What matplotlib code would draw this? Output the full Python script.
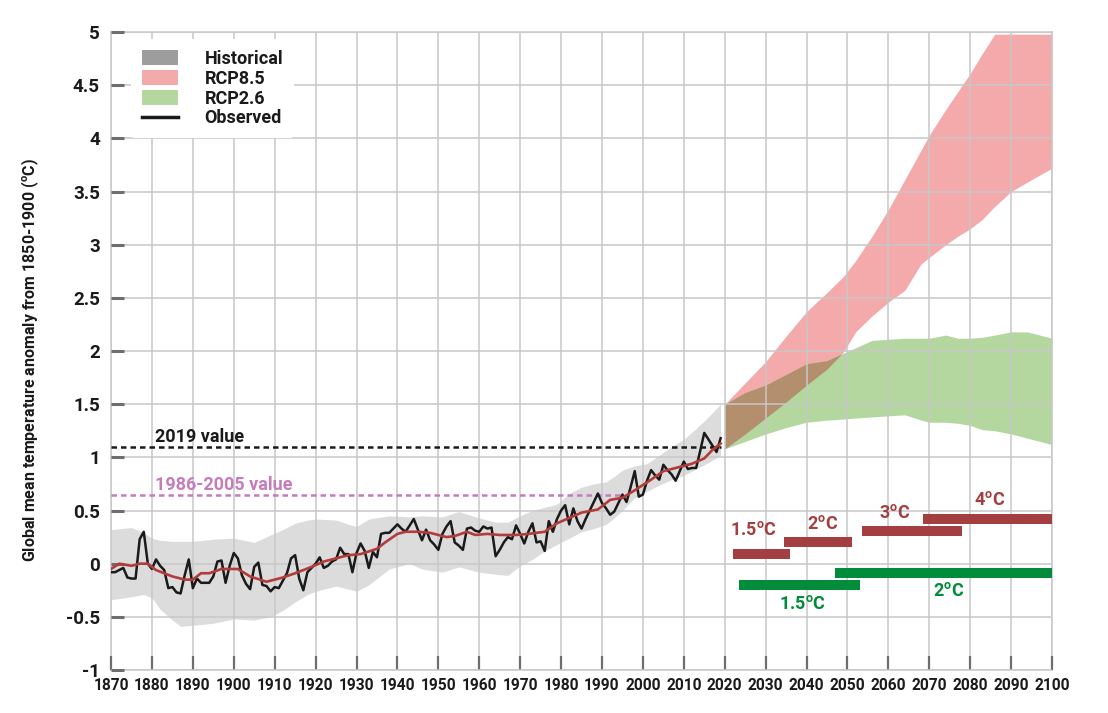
import matplotlib
matplotlib.use("Agg")
import matplotlib.pyplot as plt
import numpy as np
from matplotlib.patches import Patch
from matplotlib.lines import Line2D

plt.rcParams['font.family'] = ['Roboto', 'DejaVu Sans']
plt.rcParams['font.weight'] = 'bold'
plt.rcParams['axes.unicode_minus'] = False
plt.rcParams['mathtext.fontset'] = 'custom'
plt.rcParams['mathtext.rm'] = 'Roboto:bold'
plt.rcParams['mathtext.bf'] = 'Roboto:bold'

# --- observed annual anomalies 1870-2019 ---
obs_years = np.arange(1870, 2020)
obs_values = [
    -0.08, -0.08, -0.06, -0.04, -0.13, -0.14, -0.14, 0.23, 0.30, 0.00,
    -0.05, 0.04, -0.02, -0.06, -0.23, -0.22, -0.27, -0.28, -0.11, 0.04,
    -0.23, -0.14, -0.18, -0.18, -0.18, -0.12, 0.02, 0.03, -0.18, -0.02,
    0.10, 0.05, -0.11, -0.19, -0.24, -0.03, 0.01, -0.20, -0.21, -0.26,
    -0.22, -0.23, -0.16, -0.09, 0.05, 0.08, -0.14, -0.25, -0.08, -0.04,
    0.00, 0.06, -0.04, -0.02, 0.02, 0.04, 0.15, 0.09, 0.09, -0.08,
    0.10, 0.19, 0.12, -0.04, 0.11, 0.06, 0.28, 0.29, 0.29, 0.33,
    0.37, 0.33, 0.30, 0.36, 0.42, 0.32, 0.22, 0.32, 0.22, 0.18,
    0.13, 0.28, 0.35, 0.40, 0.20, 0.17, 0.13, 0.33, 0.34, 0.31,
    0.30, 0.35, 0.33, 0.34, 0.07, 0.13, 0.20, 0.25, 0.23, 0.36,
    0.28, 0.19, 0.30, 0.38, 0.20, 0.21, 0.12, 0.40, 0.30, 0.42,
    0.50, 0.55, 0.37, 0.52, 0.40, 0.33, 0.42, 0.50, 0.58, 0.66,
    0.57, 0.52, 0.46, 0.49, 0.57, 0.65, 0.58, 0.72, 0.87, 0.63,
    0.65, 0.78, 0.88, 0.83, 0.79, 0.93, 0.88, 0.84, 0.78, 0.87,
    0.96, 0.89, 0.90, 0.90, 1.06, 1.23, 1.17, 1.11, 1.05, 1.18,
]

# --- smoothed observed (red line) ---
smooth_years = [1870, 1872, 1875, 1877, 1879, 1881, 1885, 1888, 1890, 1892,
                1894, 1897, 1901, 1904, 1908, 1911, 1912, 1915, 1919, 1922,
                1925, 1928, 1931, 1935, 1937, 1940, 1942, 1945, 1948, 1952,
                1954, 1957, 1959, 1962, 1965, 1969, 1972, 1976, 1979, 1982,
                1985, 1989, 1992, 1995, 1998, 2002, 2005, 2008, 2012, 2015,
                2017, 2019]
smooth_values = [-0.05, 0.00, -0.02, 0.00, 0.00, -0.06, -0.12, -0.15, -0.15, -0.09,
                 -0.09, -0.05, -0.05, -0.12, -0.17, -0.14, -0.13, -0.09, -0.03, 0.02,
                 0.05, 0.08, 0.09, 0.14, 0.20, 0.28, 0.30, 0.30, 0.29, 0.25,
                 0.26, 0.30, 0.27, 0.28, 0.27, 0.27, 0.28, 0.30, 0.38, 0.43,
                 0.48, 0.51, 0.60, 0.62, 0.69, 0.79, 0.87, 0.90, 0.94, 0.99,
                 1.07, 1.13]

# --- historical range (grey band) ---
hist_years = [1870, 1875, 1878, 1880, 1882, 1885, 1887, 1890, 1895, 1900,
              1905, 1909, 1912, 1915, 1918, 1920, 1925, 1928, 1930, 1933,
              1938, 1943, 1946, 1951, 1955, 1960, 1964, 1967, 1970, 1973,
              1976, 1979, 1982, 1985, 1988, 1991, 1993, 1995, 1998, 2001,
              2004, 2007, 2010, 2013, 2016, 2019]
hist_upper = [0.32, 0.34, 0.29, 0.24, 0.22, 0.21, 0.21, 0.21, 0.23, 0.24,
              0.20, 0.27, 0.32, 0.38, 0.41, 0.42, 0.41, 0.37, 0.35, 0.42,
              0.45, 0.44, 0.45, 0.44, 0.49, 0.43, 0.39, 0.39, 0.45, 0.50,
              0.53, 0.56, 0.66, 0.72, 0.75, 0.77, 0.82, 0.88, 0.92, 0.94,
              1.02, 1.10, 1.17, 1.27, 1.38, 1.50]
hist_lower = [-0.34, -0.31, -0.29, -0.32, -0.43, -0.53, -0.59, -0.58, -0.56, -0.52,
              -0.53, -0.50, -0.44, -0.36, -0.29, -0.26, -0.21, -0.24, -0.26, -0.20,
              -0.05, 0.00, -0.05, -0.08, -0.03, -0.08, -0.10, -0.11, -0.02, 0.04,
              0.12, 0.18, 0.24, 0.30, 0.33, 0.37, 0.43, 0.50, 0.62, 0.68,
              0.74, 0.79, 0.83, 0.89, 0.95, 1.02]

# --- projections ---
proj_years = [2020, 2025, 2030, 2035, 2040, 2045, 2049, 2052, 2056, 2060,
              2064, 2068, 2070, 2074, 2077, 2080, 2083, 2086, 2090, 2094, 2100]
rcp85_upper = [1.50, 1.70, 1.90, 2.14, 2.37, 2.55, 2.70, 2.85, 3.08, 3.33,
               3.61, 3.89, 4.03, 4.27, 4.44, 4.61, 4.80, 4.98, 4.98, 4.98, 4.98]
rcp85_lower = [1.08, 1.22, 1.37, 1.52, 1.68, 1.83, 1.99, 2.18, 2.33, 2.46,
               2.57, 2.82, 2.88, 3.00, 3.08, 3.15, 3.24, 3.36, 3.50, 3.59, 3.72]
rcp26_upper = [1.50, 1.61, 1.68, 1.78, 1.88, 1.91, 1.98, 2.03, 2.10, 2.11,
               2.12, 2.12, 2.12, 2.15, 2.12, 2.12, 2.13, 2.15, 2.18, 2.18, 2.12]
rcp26_lower = [1.08, 1.15, 1.22, 1.28, 1.33, 1.35, 1.36, 1.37, 1.38, 1.39,
               1.40, 1.35, 1.33, 1.33, 1.32, 1.30, 1.26, 1.25, 1.22, 1.18, 1.12]

# reference levels
value_2019 = 1.10
value_1986_2005 = 0.65

# threshold crossing periods
rcp85_labels = ['1.5', '2', '3', '4']
rcp85_start = [2022, 2034.5, 2053.5, 2068.5]
rcp85_end = [2036, 2051, 2078, 2100]
rcp85_level = [0.095, 0.20, 0.305, 0.42]
rcp85_text_x = [2027, 2044, 2061.5, 2084.8]
rcp85_text_y = [0.27, 0.33, 0.43, 0.55]

rcp26_labels = ['1.5', '2']
rcp26_start = [2023.5, 2047]
rcp26_end = [2053, 2100]
rcp26_level = [-0.196, -0.092]
rcp26_text_x = [2038.9, 2074.8]
rcp26_text_y = [-0.43, -0.30]

grey_band = '#dcdcdc'
pink = '#f4a9ab'
green = '#b4d7a0'
brown = '#b38f6d'
dark_red = '#a33f40'
dark_green = '#008c3a'
orchid = '#c47cbc'

fig = plt.figure(figsize=(11.08, 7.13), dpi=100)
ax = fig.add_axes([0.1002, 0.0603, 0.8493, 0.8948])

ax.fill_between(hist_years, hist_lower, hist_upper, color=grey_band, lw=0, zorder=1)
ax.fill_between(proj_years, rcp85_lower, rcp85_upper, color=pink, lw=0, zorder=1)
ax.fill_between(proj_years, rcp26_lower, rcp26_upper, color=green, lw=0, zorder=1)
ov_lo = np.maximum(rcp85_lower, rcp26_lower)
ov_hi = np.minimum(rcp85_upper, rcp26_upper)
ax.fill_between(proj_years, ov_lo, ov_hi, where=ov_hi >= ov_lo, interpolate=True,
                color=brown, lw=0, zorder=1)

ax.plot([1870, 2019], [value_2019] * 2, color='#1a1a1a', lw=1.8,
        dashes=(2.2, 1.6), zorder=3)
ax.plot([1870, 1995], [value_1986_2005] * 2, color=orchid, lw=1.8,
        dashes=(2.2, 1.6), zorder=3)
ax.text(1880.8, 1.14, '2019 value', fontsize=13, color='#1a1a1a', zorder=4)
ax.text(1880.8, 0.69, '1986-2005 value', fontsize=13, color=orchid, zorder=4)

ax.plot(obs_years, obs_values, color='#1a1a1a', lw=1.8, zorder=4)
ax.plot(smooth_years, smooth_values, color='#b23b3b', lw=1.9, zorder=5)

# threshold bars
bar_h = 0.094
ax.barh(rcp85_level, np.subtract(rcp85_end, rcp85_start), left=rcp85_start,
        height=bar_h, color=dark_red, zorder=4)
ax.barh(rcp26_level, np.subtract(rcp26_end, rcp26_start), left=rcp26_start,
        height=bar_h, color=dark_green, zorder=4)
for lab, x, y in zip(rcp85_labels, rcp85_text_x, rcp85_text_y):
    ax.text(x, y, lab + r'$^{\mathbf{o}}$C', fontsize=13, color=dark_red,
            ha='center', va='baseline', zorder=5)
for lab, x, y in zip(rcp26_labels, rcp26_text_x, rcp26_text_y):
    ax.text(x, y, lab + r'$^{\mathbf{o}}$C', fontsize=13, color=dark_green,
            ha='center', va='baseline', zorder=5)

# axes styling
ax.set_xlim(1870, 2100)
ax.set_ylim(-1, 5)
ax.set_xticks(np.arange(1870, 2101, 10))
yt = np.arange(-1, 5.01, 0.5)
ax.set_yticks(yt)
ax.set_yticklabels(['%g' % v for v in yt])
ax.set_axisbelow(False)
ax.grid(True, color='#c8c8c8', lw=1.1)
for s in ax.spines.values():
    s.set_color('#c8c8c8')
    s.set_linewidth(1.1)
ax.tick_params(axis='y', direction='in', length=9.5, width=2.2, color='#6e6e6e',
               labelsize=13.5, pad=8, labelcolor='#1a1a1a')
ax.tick_params(axis='x', direction='in', length=10, width=1.6, color='#6e6e6e',
               labelsize=11.2, pad=6, labelcolor='#1a1a1a')
for t in ax.get_xticklabels() + ax.get_yticklabels():
    t.set_fontweight('bold')

ax.set_ylabel(r'Global mean temperature anomaly from 1850-1900 ($^{\mathbf{o}}$C)',
              fontsize=11.5, fontweight='bold', color='#1a1a1a')
ax.yaxis.set_label_coords(-0.074, 0.486)

handles = [Patch(facecolor='#9d9d9d', edgecolor='none'),
           Patch(facecolor=pink, edgecolor='none'),
           Patch(facecolor=green, edgecolor='none'),
           Line2D([], [], color='#1a1a1a', lw=2.5)]
leg = ax.legend(handles, ['Historical', 'RCP8.5', 'RCP2.6', 'Observed'],
                loc='upper left', bbox_to_anchor=(0.012, 1.003), frameon=True,
                fontsize=13, handlelength=2.0, handleheight=0.9,
                handletextpad=1.45, labelspacing=0.1, borderpad=0.6)
leg.get_frame().set_facecolor('white')
leg.get_frame().set_edgecolor('none')
leg.get_frame().set_alpha(1)
leg.set_zorder(6)
for t in leg.get_texts():
    t.set_fontweight('bold')
    t.set_color('#1a1a1a')

fig.savefig('out.png', dpi=100)
